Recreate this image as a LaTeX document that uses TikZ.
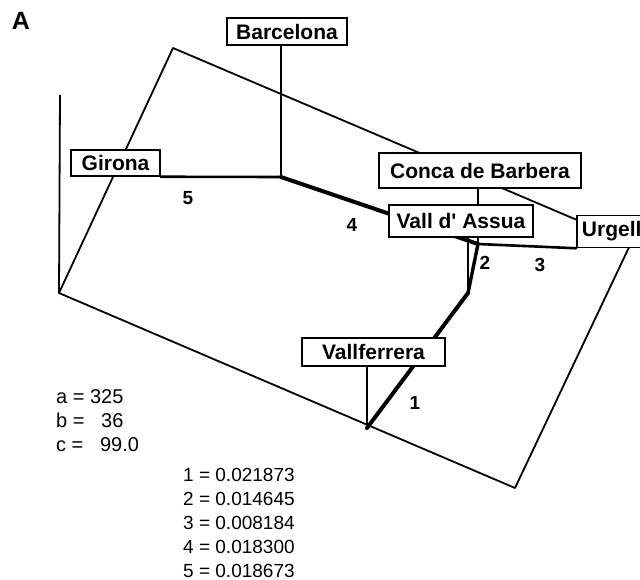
\documentclass[tikz,border=0pt]{standalone}
\usepackage{fontspec}
\setmainfont{Liberation Sans}
\usepackage{tikz}
\pgfdeclarelayer{background}
\pgfsetlayers{background,main}

\begin{document}
\begin{tikzpicture}[x=1pt,y=-1pt,
        site/.style={draw, fill=white, line width=1.5pt, inner sep=0pt,
            font=\bfseries\fontsize{21}{24}\selectfont},
        plane/.style={line width=1.8pt, line join=round},
        drop/.style={line width=1.2pt},
        branch/.style={line width=4pt, line cap=round, line join=round},
        len/.style={font=\bfseries\fontsize{19}{20}\selectfont}]
        \useasboundingbox (0,0) rectangle (640,580);
        % Panel letter
        \node[font=\bfseries\fontsize{25}{26}\selectfont] (panel) at (21,21) {A};
        % Corners of the plane and the vertical axis
        \coordinate (p1) at (173,48);
        \coordinate (p2) at (59,293);
        \coordinate (p3) at (515,488);
        \coordinate (p4) at (631,243);
        \coordinate (axis) at (60,95);
        % Inner nodes of the tree
        \coordinate (j1) at (281,177);
        \coordinate (j2) at (478,244);
        \coordinate (j3) at (468,293);
        \coordinate (v) at (367,428);
        % Labels of the sites
        \node[site, minimum width=120pt, minimum height=27pt] (barcelona) at (287,31.5) {Barcelona};
        \node[site, minimum width=89pt, minimum height=26pt] (girona) at (115.5,163) {Girona};
        \node[site, minimum width=202pt, minimum height=35pt] (conca) at (480,170.5) {Conca de Barbera};
        \node[site, minimum width=144pt, minimum height=32pt] (vall) at (461,221) {Vall d\textquotesingle\ Assua};
        \node[site, minimum width=70pt, minimum height=32pt, anchor=west] (urgell) at (576,231.5) {Urgell};
        \node[site, minimum width=143pt, minimum height=28pt] (vallferrera) at (373.5,352) {Vallferrera};
        % Plane, drop lines and branches, behind the labels
        \begin{pgfonlayer}{background}
            \draw[plane] (p1) -- (p2) -- (p3) -- (p4) -- cycle;
            \draw[plane] (p2) -- (axis);
            \draw[drop] (j1 |- barcelona.south) -- (j1);
            \draw[drop] (j2 |- conca.south) -- (j2);
            \draw[drop] (j3 |- vall.south) -- (j3);
            \draw[drop] (v |- vallferrera.south) -- (v);
            \draw[branch, line width=2.6pt] (girona.south east) -- (j1);
            \draw[branch] (j1) -- (j2);
            \draw[branch, line width=2.6pt] (j2) -- (urgell.south west);
            \draw[branch, line width=3.4pt] (j2) -- (j3);
            \draw[branch] (j3) -- (v);
        \end{pgfonlayer}
        % Branch numbers
        \node[len] (l5) at (188,198) {5};
        \node[len] (l4) at (352,225) {4};
        \node[len] (l2) at (485,263) {2};
        \node[len] (l3) at (540,265) {3};
        \node[len] (l1) at (415,403) {1};
        % Parameters
        \node[anchor=north west, inner sep=0pt, align=left, font=\fontsize{20}{24}\selectfont] (par) at (56,389)
            {a = 325\\b = \hphantom{3}36\\c = \hphantom{3}99.0};
        % Branch lengths
        \foreach \i/\v in {1/0.021873, 2/0.014645, 3/0.008184, 4/0.018300, 5/0.018673} {
            \node[anchor=north west, inner sep=0pt, font=\fontsize{19}{24}\selectfont] (b\i) at (183,444+24*\i) {\i{} = \v};
        }
\end{tikzpicture}
\end{document}
